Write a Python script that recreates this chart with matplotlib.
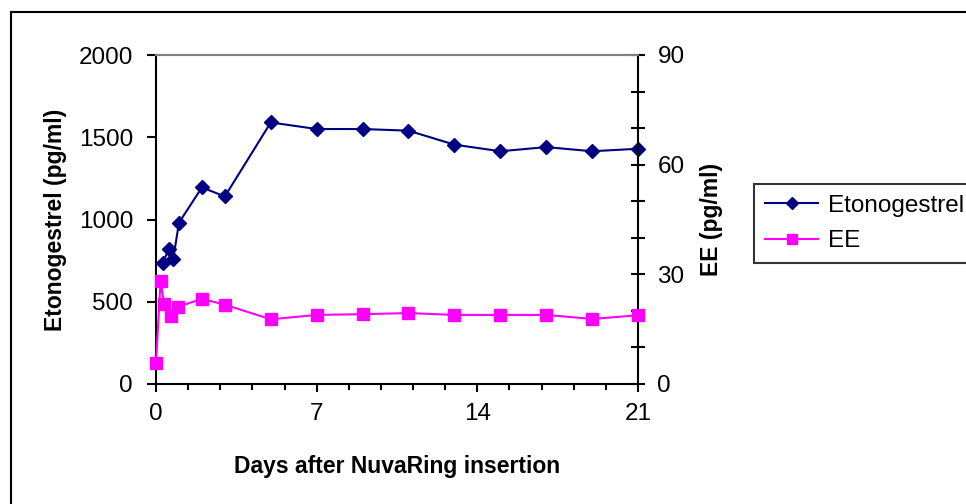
import matplotlib.pyplot as plt
from matplotlib.ticker import MultipleLocator
from matplotlib.lines import Line2D

plt.rcParams["font.family"] = ["Liberation Sans", "DejaVu Sans"]

# data
days_eto = [0.3, 0.55, 0.75, 1, 2, 3, 5, 7, 9, 11, 13, 15, 17, 19, 21]
eto = [735, 820, 760, 980, 1195, 1140, 1590, 1550, 1550, 1540, 1455, 1415, 1440, 1415, 1430]
days_ee = [0, 0.2, 0.35, 0.65, 0.95, 2, 3, 5, 7, 9, 11, 13, 15, 17, 19, 21]
ee = [5.8, 28.3, 21.8, 18.7, 21.1, 23.3, 21.7, 17.7, 18.9, 19.1, 19.4, 18.9, 18.9, 18.9, 17.8, 18.8]

W, H = 966, 504
fig = plt.figure(figsize=(W / 100, H / 100), dpi=100)
ax = fig.add_axes([156 / W, 1 - 384 / H, (638 - 156) / W, (384 - 55) / H])
ax2 = ax.twinx()

l1, = ax.plot(days_eto, eto, "-", color="#000080", lw=1.5, marker="D", ms=7.3,
              label="Etonogestrel", clip_on=False, zorder=3)
l2, = ax2.plot(days_ee, ee, "-", color="#FF00FF", lw=1.5, marker="s", ms=8.3,
               label="EE", clip_on=False, zorder=3)

ax.set_xlim(0, 21)
ax.set_ylim(0, 2000)
ax2.set_ylim(0, 90)

ax.xaxis.set_major_locator(MultipleLocator(7))
ax.xaxis.set_minor_locator(MultipleLocator(1.4))
ax.yaxis.set_major_locator(MultipleLocator(500))
ax2.yaxis.set_major_locator(MultipleLocator(30))
ax2.yaxis.set_minor_locator(MultipleLocator(10))

ax.tick_params(axis="x", which="major", direction="out", length=5.5, width=1.5,
               labelsize=17.5, pad=8)
ax.tick_params(axis="x", which="minor", direction="out", length=4, width=1.5)
ax.tick_params(axis="y", which="major", direction="out", length=6.5, width=1.5,
               labelsize=17.5, pad=10)
ax2.tick_params(axis="y", which="major", direction="inout", length=10, width=1.5,
                labelsize=17.5, pad=9)
ax2.tick_params(axis="y", which="minor", direction="inout", length=10, width=1.5)

for a in (ax, ax2):
    a.spines["top"].set_color("#808080")
    a.spines["top"].set_linewidth(1.5)
    for s in ("left", "right", "bottom"):
        a.spines[s].set_linewidth(1.5)
ax.spines["right"].set_visible(False)
ax2.spines["left"].set_visible(False)
ax2.spines["bottom"].set_visible(False)

ax.set_xlabel("Days after NuvaRing insertion", fontsize=16.5, fontweight="bold")
ax.xaxis.set_label_coords(0.5, -0.215)
ax.set_ylabel("Etonogestrel (pg/ml)", fontsize=16.5, fontweight="bold")
ax.yaxis.set_label_coords(-0.185, 0.5)
ax2.set_ylabel("EE (pg/ml)", fontsize=16.5, fontweight="bold")
ax2.yaxis.set_label_coords(1.128, 0.5)

leg = fig.legend(handles=[l1, l2], loc="upper left",
                 bbox_to_anchor=(754 / W, 1 - 184 / H), borderaxespad=0,
                 fontsize=17.5, frameon=True, fancybox=False, edgecolor="black",
                 handlelength=2.2, labelspacing=0.55, markerscale=0.8,
                 borderpad=0.45, handletextpad=0.4)
leg.get_frame().set_linewidth(1.5)

# outer chart border (cropped at right and bottom)
fig.add_artist(Line2D([11 / W, 11 / W], [0, 1 - 12 / H], transform=fig.transFigure,
                      color="black", lw=1.5))
fig.add_artist(Line2D([11 / W, 1], [1 - 12 / H, 1 - 12 / H], transform=fig.transFigure,
                      color="black", lw=1.5))

fig.savefig("out.png", dpi=100)
